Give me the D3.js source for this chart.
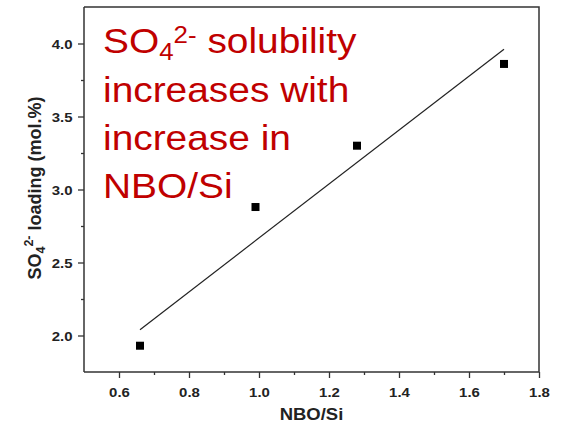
<!DOCTYPE html>
<html>
<head>
<meta charset="utf-8">
<script src="https://cdn.jsdelivr.net/npm/d3@7"></script>
<style>
  html, body { margin: 0; padding: 0; background: #fff; }
  svg { display: block; }
  text { font-family: "Liberation Sans", Arial, sans-serif; }
</style>
</head>
<body>
<svg id="chart" width="562" height="424"></svg>
<script>
// Measured sulfate loading against glass network depolymerisation
const nboSi = [0.66, 0.99, 1.28, 1.70];
const so4Loading = [1.93, 2.88, 3.30, 3.86];

// Linear trend line end points
const fitX = [0.66, 1.70];
const fitY = [2.04, 3.96];

// Axis ticks
const xTicksMajor = [0.6, 0.8, 1.0, 1.2, 1.4, 1.6, 1.8];
const xTicksMinor = [0.7, 0.9, 1.1, 1.3, 1.5, 1.7];
const yTicksMajor = [2.0, 2.5, 3.0, 3.5, 4.0];
const yTicksMinor = [2.25, 2.75, 3.25, 3.75];

// Annotation lines
const noteLines = ["increases with", "increase in", "NBO/Si"];

const svg = d3.select("#chart");
const plot = { left: 84, right: 539, top: 7, bottom: 372 };
const axisColor = "#333";

const x = d3.scaleLinear().domain([0.5, 1.8]).range([plot.left, plot.right]);
const y = d3.scaleLinear().domain([1.75, 4.25]).range([plot.bottom, plot.top]);

// Frame (top and right edges)
svg.append("path")
  .attr("d", `M${plot.left},${plot.top}H${plot.right}V${plot.bottom}`)
  .attr("fill", "none").attr("stroke", axisColor).attr("stroke-width", 1.5);

// Bottom axis
const gx = svg.append("g").attr("transform", `translate(0,${plot.bottom})`);
gx.call(d3.axisBottom(x).tickValues(xTicksMinor).tickSize(3).tickFormat(""));
gx.call(g => g.select(".domain").remove());
const gxMaj = svg.append("g").attr("transform", `translate(0,${plot.bottom})`)
  .call(d3.axisBottom(x).tickValues(xTicksMajor).tickSize(6).tickSizeOuter(0).tickFormat(d3.format(".1f")));
[gx, gxMaj].forEach(g => g.selectAll("line").attr("stroke", axisColor).attr("stroke-width", 1.3));
gxMaj.select(".domain").attr("stroke", axisColor).attr("stroke-width", 1.5)
  .attr("d", `M${plot.left},0H${plot.right}`);
gxMaj.selectAll("text")
  .attr("y", 25).attr("dy", null)
  .attr("fill", "#222").attr("font-weight", "bold").attr("font-size", 13)
  .attr("transform", "scale(1.15,1)");

// Left axis
const gy = svg.append("g").attr("transform", `translate(${plot.left},0)`);
gy.call(d3.axisLeft(y).tickValues(yTicksMinor).tickSize(3).tickFormat(""));
gy.call(g => g.select(".domain").remove());
const gyMaj = svg.append("g").attr("transform", `translate(${plot.left},0)`)
  .call(d3.axisLeft(y).tickValues(yTicksMajor).tickSize(6).tickSizeOuter(0).tickFormat(d3.format(".1f")));
[gy, gyMaj].forEach(g => g.selectAll("line").attr("stroke", axisColor).attr("stroke-width", 1.3));
gyMaj.select(".domain").attr("stroke", axisColor).attr("stroke-width", 1.5)
  .attr("d", `M0,${plot.top}V${plot.bottom}`);
gyMaj.selectAll("text")
  .attr("x", 0).attr("dy", "0.36em")
  .attr("fill", "#222").attr("font-weight", "bold").attr("font-size", 13)
  .attr("transform", "translate(-11.5,0) scale(1.15,1)");

// Axis titles
svg.append("text")
  .attr("transform", `translate(${(plot.left + plot.right) / 2},420) scale(1.12,1)`)
  .attr("text-anchor", "middle")
  .attr("font-weight", "bold").attr("font-size", 16.5).attr("fill", "#222")
  .text("NBO/Si");

const yTitle = svg.append("text")
  .attr("transform", "translate(41,188) rotate(-90)")
  .attr("text-anchor", "middle")
  .attr("font-weight", "bold").attr("font-size", 18).attr("fill", "#222");
yTitle.append("tspan").text("SO");
yTitle.append("tspan").attr("font-size", 12.5).attr("dy", 4).text("4");
yTitle.append("tspan").attr("font-size", 12.5).attr("dy", -12).text("2-");
yTitle.append("tspan").attr("dy", 8).text(" loading (mol.%)");

// Trend line
svg.append("line")
  .attr("x1", x(fitX[0])).attr("y1", y(fitY[0]))
  .attr("x2", x(fitX[1])).attr("y2", y(fitY[1]))
  .attr("stroke", "#222").attr("stroke-width", 1.2);

// Data markers
const sz = 8;
svg.append("g").selectAll("rect")
  .data(nboSi.map((v, i) => [v, so4Loading[i]]))
  .join("rect")
  .attr("x", d => x(d[0]) - sz / 2)
  .attr("y", d => y(d[1]) - sz / 2)
  .attr("width", sz).attr("height", sz)
  .attr("fill", "#000");

// Annotation
const red = "#c00000";
const note = svg.append("g").attr("fill", red).attr("font-size", 36)
  .attr("transform", "translate(103,0) scale(1.08,1)");
const l1 = note.append("text").attr("x", 0).attr("y", 53);
l1.append("tspan").text("SO");
l1.append("tspan").attr("font-size", 24).attr("dy", 7).text("4");
l1.append("tspan").attr("font-size", 24).attr("dy", -17).text("2-");
l1.append("tspan").attr("dy", 10).text(" solubility");
noteLines.forEach((t, i) => {
  note.append("text").attr("x", 0).attr("y", 101.6 + i * 48.4).text(t);
});
</script>
</body>
</html>
